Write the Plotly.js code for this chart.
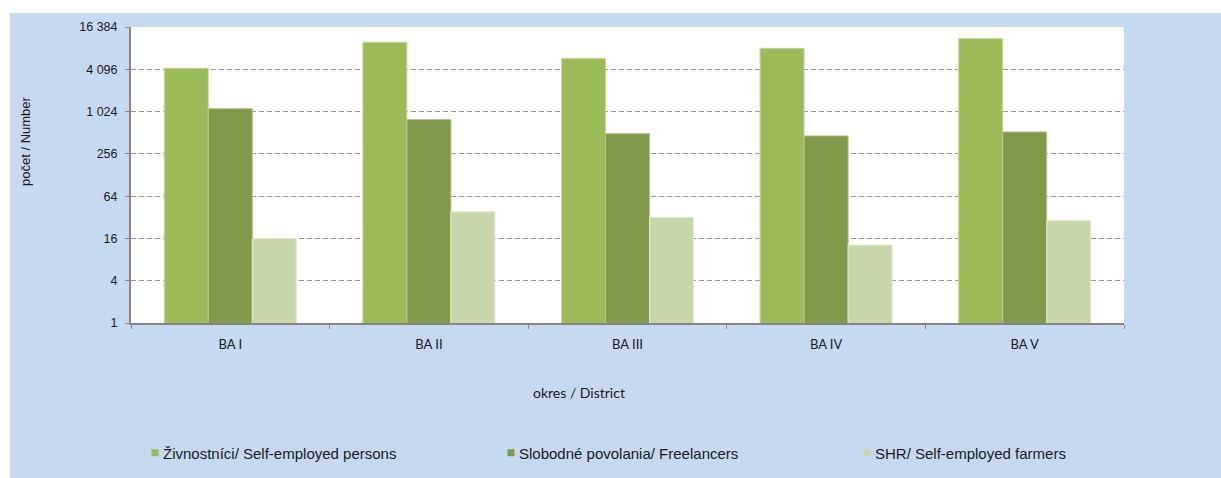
<!DOCTYPE html>
<html>
<head>
<meta charset="utf-8">
<script src="https://cdn.plot.ly/plotly-3.0.1.min.js"></script>
<style>
  html, body { margin:0; padding:0; background:#ffffff; }
  #chart { position:absolute; left:10px; top:13px; width:1211px; height:465px; }
</style>
</head>
<body>
<div id="chart"></div>
<script>
const districts = ["BA I", "BA II", "BA III", "BA IV", "BA V"];
const selfEmployed = [4230, 9950, 5870, 8150, 11180];
const freelancers = [1127, 788, 497, 461, 526];
const farmers = [15.9, 38.4, 31.9, 12.9, 28.6];
const seriesNames = ["Živnostníci/ Self-employed persons", "Slobodné povolania/ Freelancers", "SHR/ Self-employed farmers"];
const yTickVals = [1, 4, 16, 64, 256, 1024, 4096, 16384];
const yTickText = ["1", "4", "16", "64", "256", "1 024", "4 096", "16 384"];
const xTitle = "okres / District";
const yTitle = "počet / Number";

const colors = ["#9bbb59", "#7f9a48", "#c8d6ac"];
const lineColors = ["#c5d9a0", "#b3c692", "#e3ebd4"];
const seriesData = [selfEmployed, freelancers, farmers];

const traces = seriesData.map((vals, i) => ({
  type: "bar",
  x: districts,
  y: vals,
  name: seriesNames[i],
  marker: { color: colors[i], line: { color: lineColors[i], width: 1 } },
  hoverinfo: "none"
}));

const layout = {
  width: 1211,
  height: 465,
  paper_bgcolor: "#c6d9f1",
  plot_bgcolor: "#ffffff",
  margin: { l: 121, r: 97, t: 14, b: 155, autoexpand: false },
  barmode: "group",
  bargap: 0.335,
  bargroupgap: 0,
  showlegend: true,
  legend: {
    orientation: "h",
    x: -8 / 993, xanchor: "left",
    y: -130 / 296, yanchor: "middle",
    font: { family: "Liberation Sans, Arial, sans-serif", size: 15, color: "#1a1a1a" },
    entrywidth: 311,
    entrywidthmode: "pixels",
    bgcolor: "rgba(0,0,0,0)",
    traceorder: "normal"
  },
  xaxis: {
    type: "category",
    showline: true, linecolor: "#868686", linewidth: 2,
    ticks: "outside", tickson: "boundaries", ticklen: 4, tickcolor: "#868686", tickwidth: 1,
    ticklabelstandoff: 8,
    tickfont: { family: "Lato, Liberation Sans, sans-serif", size: 13, color: "#1a1a1a" },
    showgrid: false, zeroline: false, fixedrange: true
  },
  yaxis: {
    type: "log",
    range: [0, Math.log10(16384)],
    tickvals: yTickVals,
    ticktext: yTickText,
    showline: true, linecolor: "#868686", linewidth: 2,
    ticks: "outside", ticklen: 4, tickcolor: "#868686", tickwidth: 1,
    ticklabelstandoff: 5,
    tickfont: { family: "Liberation Sans, Arial, sans-serif", size: 12.5, color: "#1a1a1a" },
    showgrid: true, gridcolor: "#999999", gridwidth: 1, griddash: "5px,3px",
    zeroline: false, fixedrange: true
  },
  annotations: [
    {
      text: xTitle, xref: "paper", yref: "paper",
      x: (579 - 131) / 993, y: -(392 - 323) / 296,
      xanchor: "center", yanchor: "middle", showarrow: false,
      font: { family: "Lato, Liberation Sans, sans-serif", size: 14, color: "#1a1a1a" }
    },
    {
      text: yTitle, xref: "paper", yref: "paper",
      x: -(131 - 26) / 993, y: (323 - 141) / 296,
      xanchor: "center", yanchor: "middle", textangle: -90, showarrow: false,
      font: { family: "Liberation Sans, Arial, sans-serif", size: 13, color: "#1a1a1a" }
    }
  ]
};

Plotly.newPlot("chart", traces, layout, { staticPlot: true, displayModeBar: false }).then(gd => {
  // small square legend swatches placed close to the text, as in the reference
  gd.querySelectorAll(".legend path.legendbar, .legend path.legendundefined").forEach(p => {
    p.setAttribute("d", "M3.5,3.5H-3.5V-3.5H3.5Z");
    p.setAttribute("transform", "translate(32,0)");
    p.style.strokeWidth = "0px";
  });
});
</script>
</body>
</html>
